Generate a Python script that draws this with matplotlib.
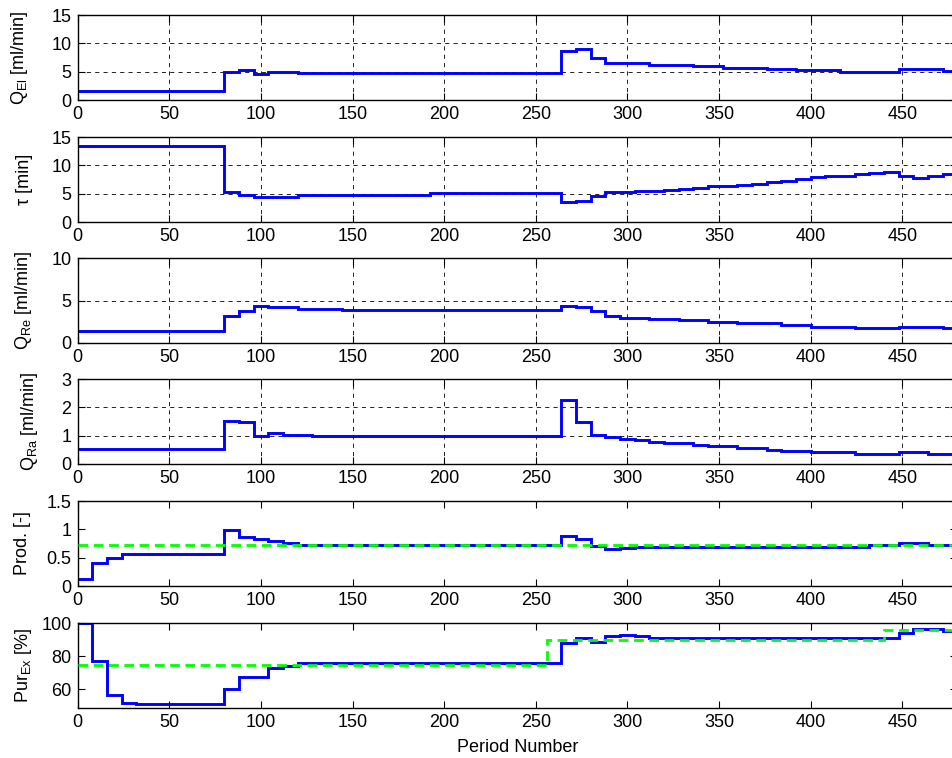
import matplotlib
matplotlib.use('Agg')
import matplotlib.pyplot as plt
from matplotlib.ticker import FuncFormatter

plt.rcParams['font.family'] = ['Liberation Sans', 'DejaVu Sans']
plt.rcParams['mathtext.default'] = 'regular'
plt.rcParams['font.size'] = 13

# step edges (period number) and values held on each interval
qel_t = [0, 80, 88, 96, 104, 120, 264, 272, 280, 288, 312, 336, 352, 376, 392, 416, 448, 472, 480]
qel_v = [1.65, 4.95, 5.25, 4.65, 5.0, 4.76, 8.65, 8.94, 7.35, 6.6, 6.24, 5.94, 5.7, 5.41, 5.24, 4.94, 5.41, 5.1]

tau_t = [0, 80, 88, 96, 120, 192, 264, 272, 280, 288, 296, 304, 312, 320, 328, 336, 344,
         352, 360, 368, 376, 384, 392, 400, 408, 416, 424, 432, 440, 448, 456, 464, 472, 480]
tau_v = [13.4, 5.24, 4.82, 4.47, 4.82, 5.06, 3.47, 3.76, 4.53, 5.24, 5.3, 5.4, 5.5, 5.7, 5.75, 6.0, 6.3,
         6.4, 6.55, 6.75, 7.0, 7.3, 7.6, 7.9, 8.05, 8.2, 8.4, 8.65, 8.9, 8.1, 7.8, 8.05, 8.4]

qre_t = [0, 80, 88, 96, 104, 120, 144, 264, 272, 280, 288, 296, 312, 328, 344, 360, 384, 400, 424, 448, 472, 480]
qre_v = [1.43, 3.17, 3.73, 4.4, 4.2, 4.05, 3.89, 4.4, 4.25, 3.73, 3.17, 2.98, 2.82, 2.7, 2.5, 2.3, 2.1, 1.94, 1.75, 1.94, 1.75]

qra_t = [0, 80, 88, 96, 104, 112, 128, 264, 272, 280, 288, 296, 304, 312, 320, 336, 344,
         360, 376, 384, 400, 424, 448, 464, 480]
qra_v = [0.52, 1.52, 1.48, 0.98, 1.1, 1.04, 0.99, 2.26, 1.48, 1.04, 0.96, 0.88, 0.84, 0.78, 0.73, 0.68,
         0.62, 0.56, 0.51, 0.47, 0.42, 0.36, 0.42, 0.36]

prod_t = [0, 8, 16, 24, 80, 88, 96, 104, 112, 120, 264, 272, 280, 288, 296, 304, 432, 448, 464, 480]
prod_v = [0.12, 0.41, 0.5, 0.56, 0.99, 0.86, 0.83, 0.79, 0.76, 0.73, 0.89, 0.83, 0.70, 0.65, 0.67, 0.69, 0.725, 0.76, 0.725]
prod_sp_t = [0, 480]
prod_sp_v = [0.725]

pur_t = [0, 8, 16, 24, 32, 80, 88, 104, 112, 120, 264, 272, 280, 288, 296, 304, 312, 448, 456, 472, 480]
pur_v = [100, 77, 56.3, 52, 51, 60, 67.2, 72.7, 73.9, 75.6, 88.1, 90.7, 88.7, 92, 92.8, 92, 90.7, 94, 96.5, 95.5]
pur_sp_t = [0, 256, 440, 480]
pur_sp_v = [74.6, 89.9, 95.6]

xticks = [0, 50, 100, 150, 200, 250, 300, 350, 400, 450]

panels = [
    (qel_t, qel_v, None, None, r'Q$_{El}$ [ml/min]', (0, 15), [0, 5, 10, 15], True),
    (tau_t, tau_v, None, None, 'τ [min]', (0, 15), [0, 5, 10, 15], True),
    (qre_t, qre_v, None, None, r'Q$_{Re}$ [ml/min]', (0, 10), [0, 5, 10], True),
    (qra_t, qra_v, None, None, r'Q$_{Ra}$ [ml/min]', (0, 3), [0, 1, 2, 3], True),
    (prod_t, prod_v, prod_sp_t, prod_sp_v, 'Prod. [-]', (0, 1.5), [0, 0.5, 1, 1.5], False),
    (pur_t, pur_v, pur_sp_t, pur_sp_v, r'Pur$_{Ex}$ [%]', (48.7, 100), [60, 80, 100], False),
]

bottoms = [0.868, 0.7071, 0.5475, 0.3879, 0.2269, 0.0660]
label_x = [-0.054, -0.051, -0.050, -0.043, -0.053, -0.050]

fig = plt.figure(figsize=(9.53, 7.58), dpi=100)
fmt = FuncFormatter(lambda v, p: '%g' % v)

for i, (t, v, st, sv, lab, ylim, yt, grid) in enumerate(panels):
    ax = fig.add_axes([0.0815, bottoms[i], 0.923, 0.112])
    ax.stairs(v, t, baseline=None, color='#0000ff', linewidth=2.1, zorder=2)
    if st is not None:
        ax.stairs(sv, st, baseline=None, color='#00ff00', linewidth=2.0,
                  linestyle=(0, (3.5, 2)), zorder=3)
    ax.set_xlim(0, 480)
    ax.set_ylim(*ylim)
    ax.set_xticks(xticks)
    ax.set_yticks(yt)
    ax.yaxis.set_major_formatter(fmt)
    ax.tick_params(direction='in', top=True, right=True, length=5, width=0.8)
    ax.tick_params(axis='x', pad=4)
    ax.tick_params(axis='y', pad=4.5)
    for s in ax.spines.values():
        s.set_linewidth(1.0)
    if grid:
        ax.grid(True, color='k', linestyle=(0, (5, 5)), linewidth=0.6)
    ax.set_ylabel(lab)
    ax.yaxis.set_label_coords(label_x[i], 0.5)
    if i == len(panels) - 1:
        ax.set_xlabel('Period Number', labelpad=6)

fig.savefig('out.png', dpi=100)
